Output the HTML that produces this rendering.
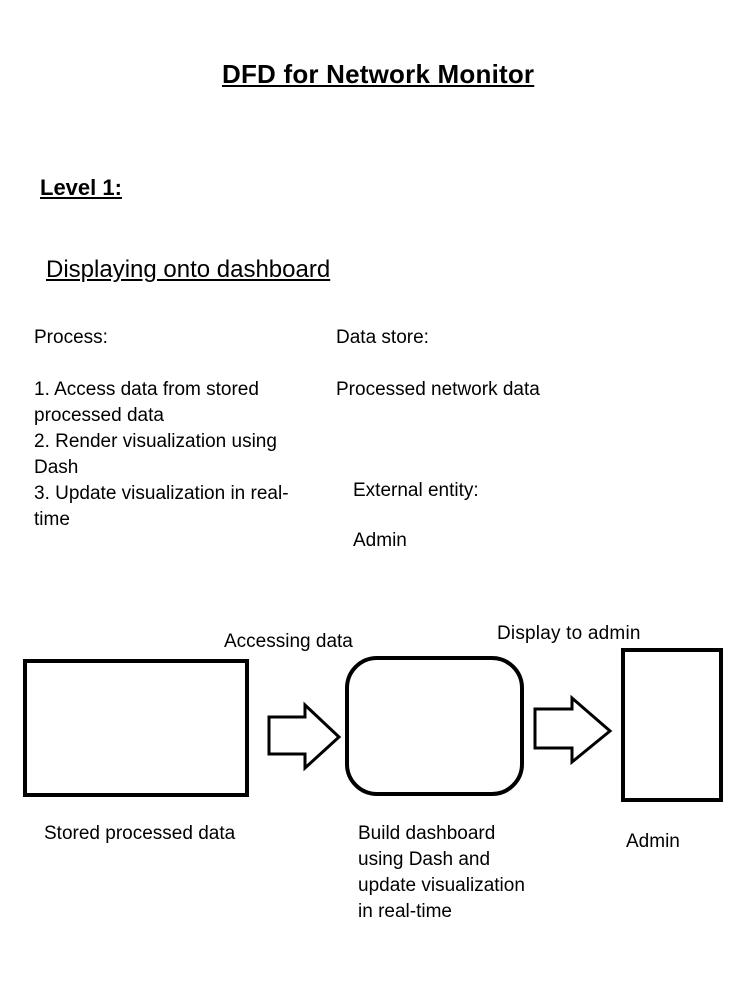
<!DOCTYPE html>
<html><head><style>
body{margin:0;width:731px;height:984px;background:#fff;position:relative;font-family:"Liberation Sans",sans-serif;color:#000;overflow:hidden}
.t{position:absolute;white-space:nowrap;font-size:19px;line-height:26px}
</style></head><body>
<div class="t" style="left:222px;top:58px;font-size:26px;font-weight:bold;text-decoration:underline;line-height:32px;letter-spacing:0.2px">DFD for Network Monitor</div>
<div class="t" style="left:40px;top:174px;font-size:22px;font-weight:bold;text-decoration:underline;line-height:28px">Level 1:</div>
<div class="t" style="left:46px;top:255px;font-size:24px;text-decoration:underline;line-height:30px;letter-spacing:0px">Displaying onto dashboard</div>
<div class="t" style="left:34px;top:325px">Process:</div>
<div class="t" style="left:34px;top:377px">1. Access data from stored<br>processed data<br>2. Render visualization using<br>Dash<br>3. Update visualization in real-<br>time</div>
<div class="t" style="left:336px;top:325px">Data store:</div>
<div class="t" style="left:336px;top:377px">Processed network data</div>
<div class="t" style="left:353px;top:478px">External entity:</div>
<div class="t" style="left:353px;top:528px">Admin</div>
<div class="t" style="left:224px;top:629px">Accessing data</div>
<div class="t" style="left:497px;top:621px;font-size:19px;letter-spacing:0.2px">Display to admin</div>
<div class="t" style="left:44px;top:821px">Stored processed data</div>
<div class="t" style="left:358px;top:821px">Build dashboard<br>using Dash and<br>update visualization<br>in real-time</div>
<div class="t" style="left:626px;top:829px">Admin</div>
<svg width="731" height="984" style="position:absolute;left:0;top:0" fill="none" stroke="#000" stroke-width="4">
<rect x="25" y="661" width="222" height="134"/>
<polygon points="269,717 305,717 305,705 339,737 305,768 305,754 269,754" stroke-width="3"/>
<rect x="347" y="658" width="175" height="136" rx="30"/>
<polygon points="535,709 572,709 572,698 610,731 572,762 572,748 535,748" stroke-width="3"/>
<rect x="623" y="650" width="98" height="150"/>
</svg>
</body></html>
